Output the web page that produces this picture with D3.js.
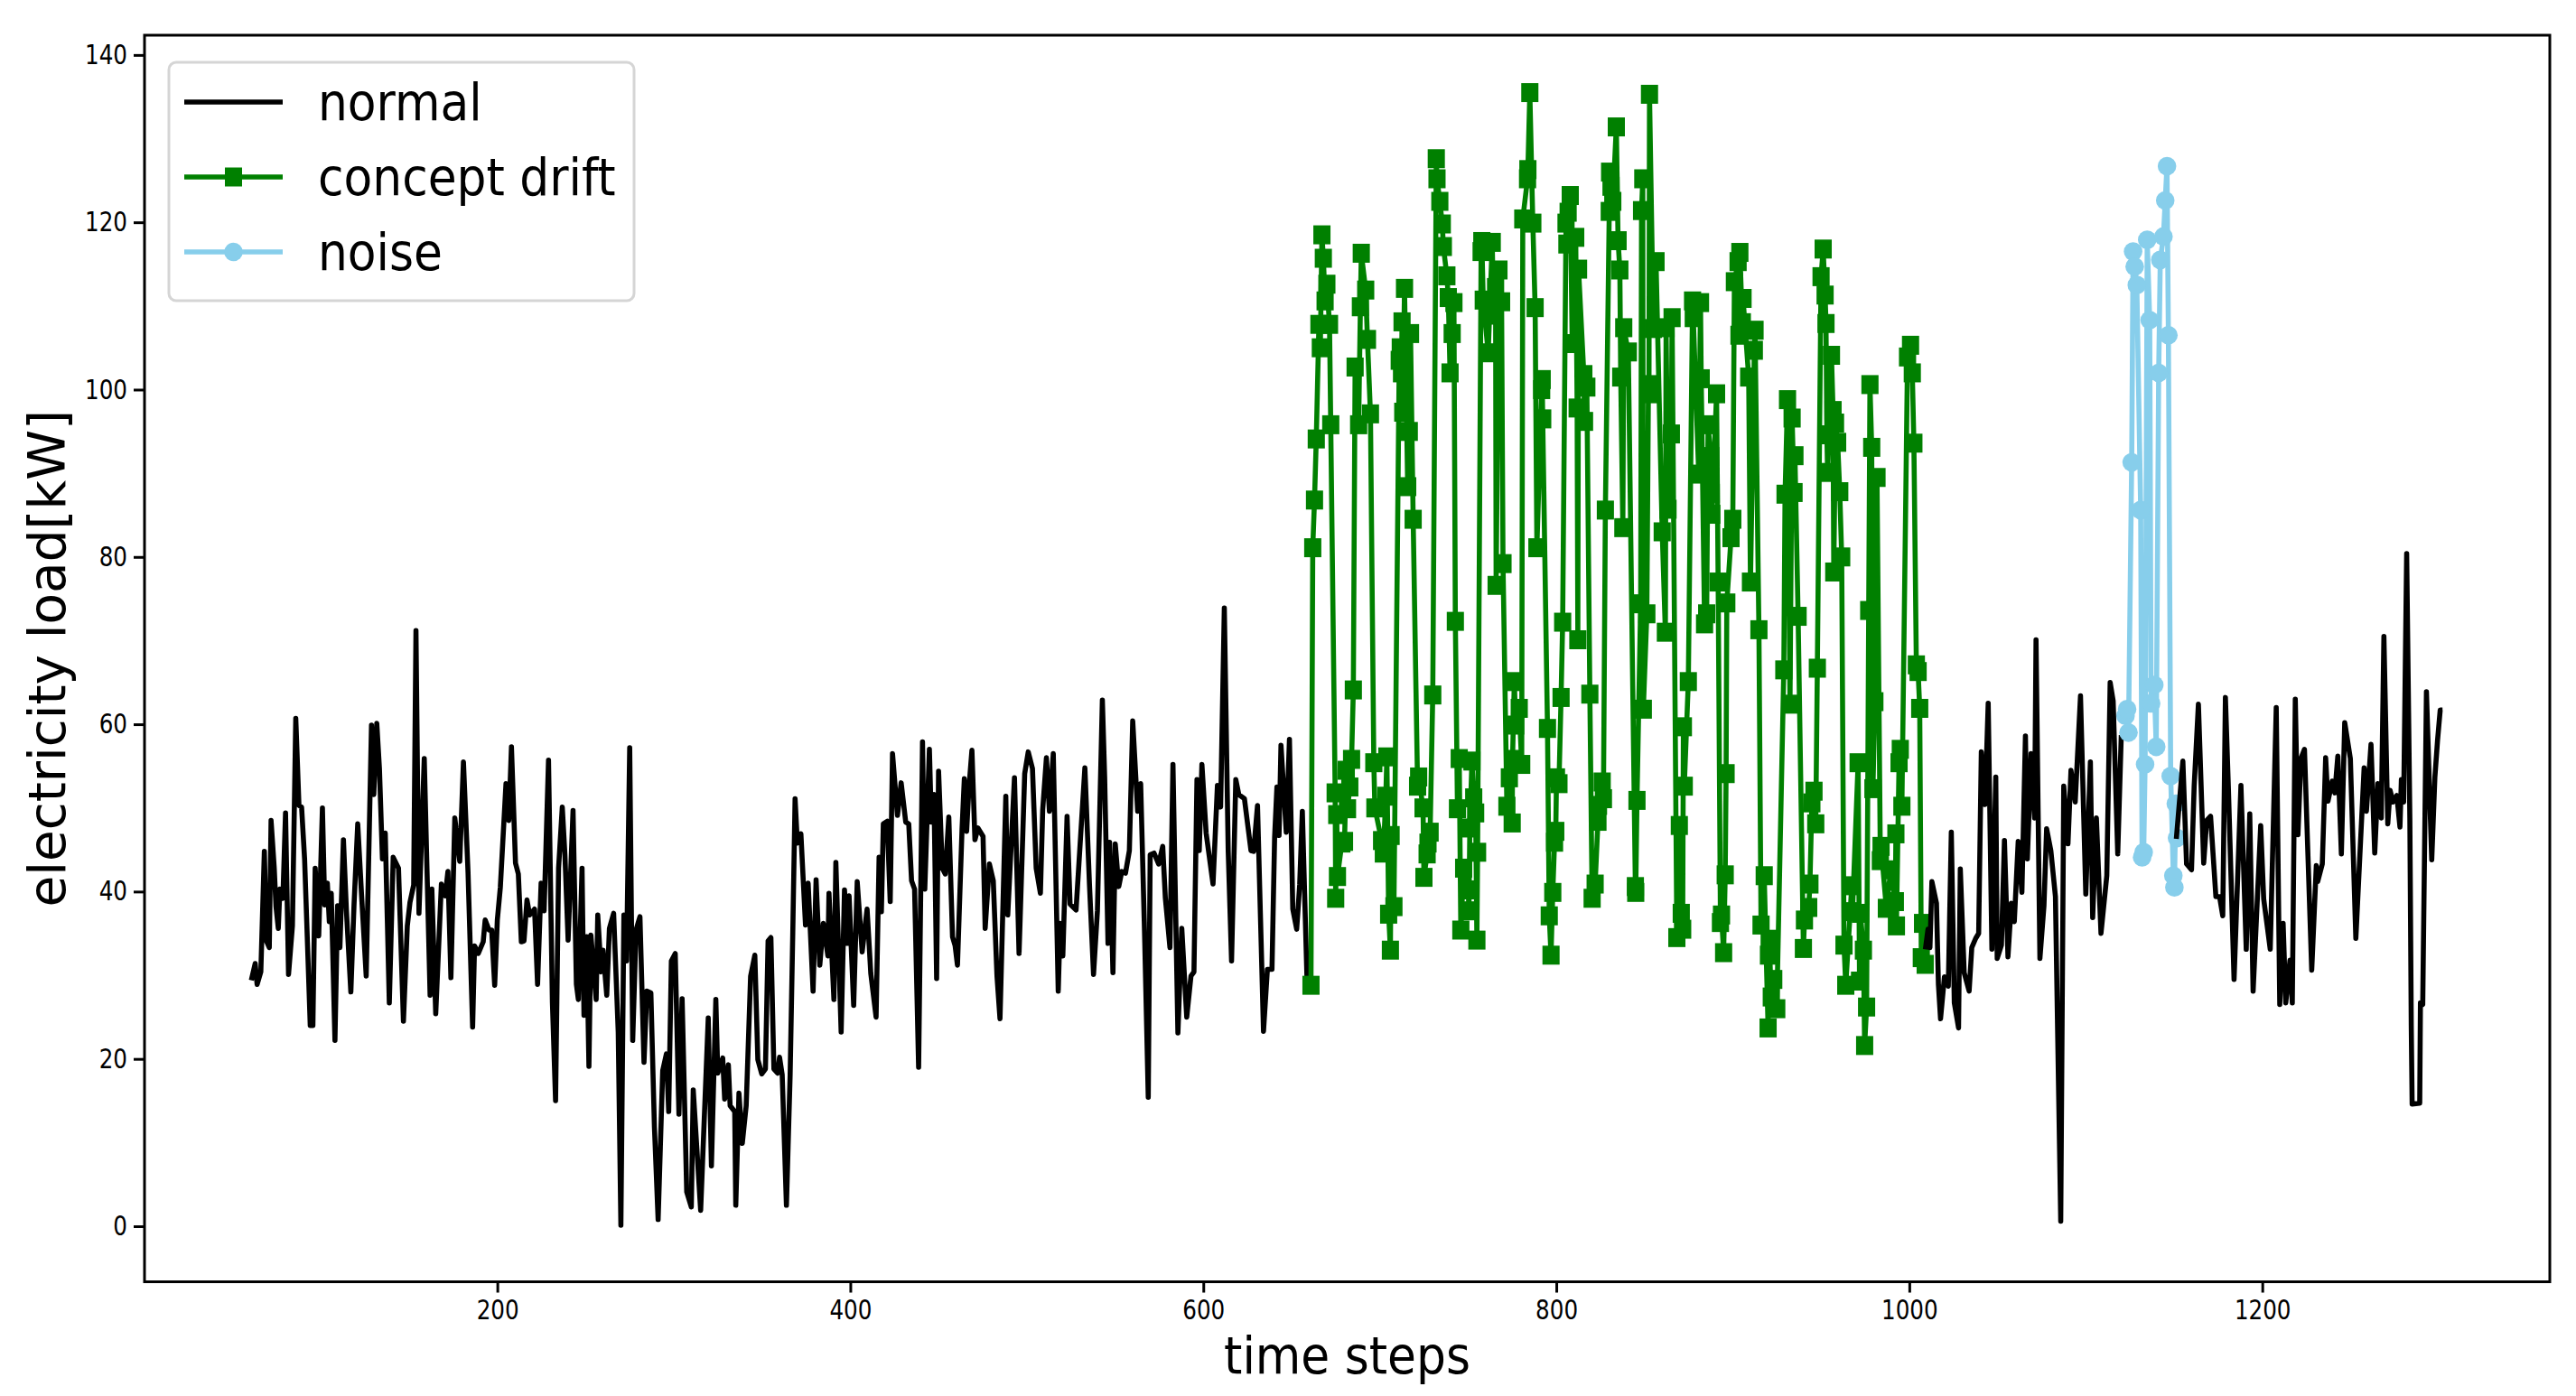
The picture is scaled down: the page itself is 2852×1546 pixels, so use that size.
<!DOCTYPE html>
<html lang="en">
<meta charset="utf-8">
<title>electricity load</title>
<script src="https://d3js.org/d3.v7.min.js"></script>
<style>
  body { margin: 0; background: #fff; }
  text { font-family: "DejaVu Sans", sans-serif; fill: #000; }
</style>
<svg width="2852" height="1546"></svg>
<script>
// [time step, load] vertices
var normalA = [[60.6,29.4],[62.8,31.4],[63.9,28.9],[66,30.4],[68,44.8],[69.2,34.1],[70.8,33.3],[71.8,48.5],[73.6,42.8],[74.6,38.2],[75.9,35.6],[76.8,40.3],[78.5,39.2],[80,49.4],[81.7,30.1],[83.9,35.9],[85.8,60.7],[87.6,50.3],[89.1,50.1],[90.8,43.9],[92.3,34.6],[94,24],[95.5,24],[96.8,42.8],[98.8,34.7],[100.9,50],[102.2,38.4],[103.7,41],[104.8,36.4],[105.9,39.8],[108,22.2],[109.5,38.3],[110.8,33.3],[112.8,46.2],[114.5,37.7],[117,28],[118.8,38.4],[120.9,48.1],[123.1,39.5],[125.7,29.9],[127,42.8],[128.7,59.9],[130,51.6],[131.7,60.1],[133.2,54.7],[134.9,43.9],[136.5,47],[138.8,26.7],[141,44.1],[144,42.8],[146.8,24.5],[149,35.9],[150.5,38.7],[152.6,40.8],[153.9,71.2],[155.6,37.4],[158.6,55.9],[161.9,27.6],[162.9,40.3],[165.1,25.4],[168.3,40.9],[170.5,39.5],[172,42.4],[173.7,29.7],[175.9,48.8],[178.7,43.6],[180.8,55.5],[183.4,42.3],[186,23.8],[187.1,33.5],[189.2,32.6],[192,34],[193.1,36.6],[195.3,35.4],[196.8,35.4],[198.5,28.8],[200,36.6],[201.7,40.5],[204.9,52.9],[206.5,48.5],[208,57.3],[210.3,43.4],[211.9,42.1],[213.6,34],[215.1,34.1],[216.8,39],[218.3,37.2],[221.1,37.9],[222.8,28.9],[224.8,41],[226.5,37.7],[229,55.7],[231.2,26.8],[233,15],[234.7,42.8],[236.8,50.1],[238.3,44.4],[240.1,34.2],[242.9,49.7],[244.8,28.9],[245.9,27.1],[248,42.8],[249.1,25.2],[250.6,34.6],[251.9,19.1],[253,34.8],[256,27.1],[256.9,37.2],[258.8,30.4],[259.9,33],[262,27.6],[263.5,35.6],[265.9,37.4],[268.5,23.2],[270,0.1],[271.7,37.2],[273.2,31.7],[275,57.2],[276.7,22.2],[278.6,35.4],[280.8,37],[283.1,19.6],[284.7,28.1],[287,27.9],[289,11.9],[291.1,0.8],[293.7,18.6],[295.8,20.6],[297.1,13.7],[298.6,31.7],[300.8,32.6],[302.9,13.4],[304.7,27.2],[307.3,4.1],[309.9,2.3],[311,16.3],[315.2,1.9],[319.5,24.9],[321.3,7.2],[323.8,27.1],[324.9,18.3],[327.7,20.1],[328.8,15.2],[330.9,19.3],[331.9,14.4],[334.5,13.7],[335.1,2.5],[336.9,15.9],[338.8,9.9],[341,14.4],[343.5,29.9],[345.9,32.4],[347.6,19.9],[349.8,18.2],[351.9,18.8],[353.4,34.1],[355,34.5],[356.7,18.8],[358.8,18.3],[359.9,20.2],[361.4,18.1],[363.8,2.5],[365.9,18.1],[367.4,35.1],[368.7,51.1],[370,45.8],[372,46.9],[374.6,36],[376.1,41],[378.9,28.1],[380.6,41.4],[382.7,31.2],[384.7,36.2],[387.3,32.3],[387.9,39.8],[390.7,27.1],[391.8,43.5],[394.8,23.2],[396.7,40.2],[398.3,33.8],[399.3,39.5],[401.9,26.4],[403.9,41.2],[406.7,32.8],[409.5,37.9],[411.6,30.2],[414.6,25],[416.3,44.1],[417.6,37.6],[418.7,48.1],[420.9,48.4],[422.6,38.8],[423.9,56.5],[426.7,49.1],[428.8,53],[431.4,48.3],[433.1,48.1],[434.7,41.3],[436.4,40.3],[438.7,19],[440.9,57.9],[442.2,40.3],[444.8,57],[445.9,48.3],[447.4,51.6],[448.9,29.6],[450,54.4],[452.1,42.8],[453.8,42.1],[455.8,48.9],[457.9,34.6],[459.4,33.5],[460.7,31.2],[463.3,47.5],[464.6,53.5],[465.9,47.2],[467.2,52.4],[468.9,56.9],[470.6,46.2],[472.3,47.6],[475.2,46.6],[476.4,35.6],[478.8,43.3],[481,41.3],[483.1,29.9],[484.8,24.8],[488.1,51.4],[489.2,37.2],[493,53.6],[495.6,32.6],[498.8,54.1],[500.8,56.7],[503.2,54.7],[505.3,42.8],[507.7,39.8],[509,49.8],[511.1,56],[512.8,49.6],[515,56.5],[517.8,28.1],[518.9,36.2],[520.4,32.3],[522.8,49],[524.5,38.5],[527.9,37.8],[530.5,46.7],[532.9,54.8],[535.5,40.8],[537.8,30.1],[540,37.7],[542.8,62.9],[544.1,53.7],[546,33.8],[546.9,45.9],[548.8,30.3],[550.1,45.7],[552.1,40.6],[553.8,42.4],[555.9,42.2],[558.1,44.9],[560,60.4],[562.8,49.6],[564.5,52.9],[566.7,35.1],[568.8,15.4],[569.9,44.4],[572.1,44.6],[574.7,43.3],[577,45.4],[578.5,39.2],[581.1,33.3],[582.8,55.2],[585.6,23.1],[587.8,35.6],[590.6,25],[593,29.9],[594.7,30.4],[596.4,53.4],[597.7,44.9],[599.2,55.2],[601.6,47],[605.5,40.9],[608,52.7],[609.8,50.1],[611.9,73.9],[614.1,44.9],[616,31.7],[618.4,53.4],[620.1,51.6],[623.3,51.1],[627,44.9],[628.5,44.8],[630.7,50.3],[634.1,23.3],[636.3,30.7],[638.9,30.7],[640.4,46.5],[641.7,52.5],[642.9,46.7],[644,57.5],[647,47.1],[648.8,58.2],[650.7,37.9],[652.9,35.5],[654.6,40.8],[656.1,49.6],[658.7,29.9],[660,28.8]];

var normalB = [[1009.1,33.1],[1010.6,35.5],[1011.7,33.3],[1012.8,41.2],[1015.4,38.6],[1016.5,28.9],[1017.7,24.8],[1019.9,29.8],[1022.1,28.7],[1023.8,47.1],[1025.5,26.7],[1027.9,23.7],[1028.9,42.7],[1031.1,30.3],[1033.9,28.1],[1035.4,33.3],[1037.6,34.4],[1039.3,35],[1040.8,56.7],[1042.9,50.4],[1044.7,62.5],[1046.8,33.1],[1049,53.7],[1049.8,32],[1052.2,33.6],[1053.9,46.1],[1055.9,32.2],[1057.8,38.6],[1059.5,36.4],[1061.7,46],[1063.8,39.9],[1065.8,58.6],[1066.9,43.9],[1069,56.5],[1071,48.8],[1071.8,70.1],[1074,32],[1076.3,38.3],[1077.8,47.5],[1080.2,44.9],[1082.8,39.4],[1085.8,0.6],[1087.5,52.6],[1089.9,45.7],[1091.6,54.5],[1094,50.7],[1097,63.4],[1100,39.7],[1102.6,55.5],[1103.9,36.9],[1106,48.8],[1108.6,35],[1111.9,41.9],[1113.8,65],[1115.5,62.8],[1118.1,44.5],[1120.1,58.7]];

var normalC = [[1151.3,46.3],[1155,55.6],[1157.1,43.3],[1159.9,42.6],[1161.4,52.6],[1163.8,62.4],[1166.8,43.4],[1168.5,48.5],[1170.7,49],[1173.7,39.4],[1175.8,39.4],[1177.6,37.1],[1179.1,63.2],[1180.8,52.3],[1184,29.5],[1187.9,52.7],[1190.9,33.1],[1192.9,49.3],[1194.8,28.1],[1199.1,47.9],[1200.8,39.1],[1204.5,33.1],[1207.9,62],[1209.9,26.5],[1211.8,36.2],[1213.3,26.7],[1215.7,31.8],[1217,26.7],[1218.7,63],[1220.2,46.8],[1221.9,55.9],[1223.9,57],[1228,30.6],[1230.6,43.1],[1231.4,41.2],[1234,43.3],[1235.9,56],[1237.2,50.8],[1239.6,53.2],[1241.1,51.8],[1242.8,56.2],[1244.8,44.5],[1246.7,60.2],[1249.9,55.9],[1253,34.4],[1257.7,54.8],[1259,49.6],[1261.6,57.6],[1263.7,44.6],[1265.5,52.9],[1267.4,48.8],[1268.9,70.5],[1271.1,48.1],[1272.4,52.1],[1274.1,50.7],[1276.2,51.5],[1278,47.7],[1278.8,53.4],[1280.1,50.7],[1281.8,80.4],[1283.6,48.8],[1284.4,24],[1284.9,14.6],[1289.2,14.7],[1289.6,26.7],[1290.9,26.5],[1293,63.9],[1296,43.8],[1297.8,53.7],[1299.3,58.1],[1300.8,61.7],[1302.1,61.7]];

var drift = [[661,28.8],[662,81.1],[663,86.8],[664,94.1],[665.5,107.8],[666.3,105],[667.2,118.5],[668,115.7],[669,110.6],[670,112.6],[671.5,107.8],[672.2,95.8],[674.7,51.8],[675,39.2],[675.6,49.2],[676,41.8],[678.5,45.8],[680,46],[681,54.5],[681.7,49.9],[683,52.5],[684,55.8],[685,64.1],[686,102.7],[688,95.8],[689,109.9],[689.5,116.3],[692,111.9],[693,106],[694.7,97.1],[696.6,55.4],[697.2,50],[701,46.1],[702,44.6],[703.4,51.4],[704,56.1],[705,37.3],[706,33],[706.4,46.7],[708,38.2],[711,103.5],[711.6,105],[712.3,102],[712.6,108.1],[713,97.3],[714,112.1],[715.8,88.4],[716.7,95],[717.4,106.7],[718.9,84.5],[721.4,52.6],[722,53.7],[724.5,50],[725,41.7],[726.8,44.5],[727.3,45.8],[728.5,47.1],[730,63.5],[732,127.6],[732.4,125.2],[734,122.5],[735.4,119.8],[736,117.1],[738,113.6],[738.8,111],[739.8,102],[741,106.7],[742,110.4],[742.8,72.3],[744,49.9],[745,55.9],[745.9,35.4],[747.5,42.8],[750.1,40.2],[750.5,37.7],[751,47.6],[752.2,55.6],[753.2,51.2],[754.3,49.4],[755,34.2],[755.4,44.7],[757.4,116.5],[757.8,117.7],[758.6,110.7],[761.4,104.4],[763.7,117.6],[764.4,108.9],[765.6,112.2],[765.9,76.6],[767.5,114.3],[769,110.5],[769.8,79.2],[772,50.2],[773.4,53.6],[775,48.2],[775.2,55.8],[776.2,65.1],[777,59.9],[779,61.9],[780.4,55.2],[781,120.4],[783.7,125.2],[783.9,126.3],[785,135.5],[786.7,119.9],[788,109.8],[789,81.1],[791.7,100],[792,101.2],[792.3,96.5],[795,59.5],[796,37.1],[797,32.4],[798,39.9],[799,45.9],[799.7,47.2],[800.1,53.6],[801.5,52.9],[802.7,63.2],[803.6,72.2],[805.5,119.9],[806,117.4],[806.7,121.2],[807.9,123.2],[809,105.5],[811,118.2],[811.8,97.8],[812.2,70.1],[812.6,114.4],[815.6,101.8],[816,96.2],[817.3,100.3],[819,63.6],[820.3,39.2],[822,40.9],[823.6,48.4],[823.9,50.3],[826,53.1],[826.7,51.1],[827.8,85.6],[830,121.3],[830.2,126],[831,124.3],[832,122.5],[834,131.4],[835,117.8],[836,114.3],[836.5,101.5],[837.7,83.5],[838.2,107.4],[840.8,104.5],[844.8,40.6],[845,39.9],[845.7,50.9],[847.8,74.4],[848.3,121.4],[849,125.2],[849.3,61.8],[851.3,73.2],[852.2,100.6],[852.5,99.5],[852.8,135.3],[855,107.3],[856.5,115.3],[860,83],[861.8,71],[862.2,107.4],[863.3,85.7],[865.2,94.7],[865.6,108.6],[868.3,34.5],[869.7,47.9],[870.8,37.4],[871.6,35.5],[872,59.7],[872.5,52.6],[874.8,65.1],[877.2,110.6],[877.6,108.6],[880.7,89.9],[881.7,110.4],[882.1,101.3],[884,72],[885.2,73.2],[886,95.8],[887.5,92],[887.8,87.6],[888.1,85.1],[890.8,99.5],[891.7,77],[893,36.3],[893.6,37.2],[894.8,32.7],[895.7,42],[896.2,54.1],[896.6,74.5],[899,82.3],[900,84.5],[900.9,112.9],[903,115.3],[903.5,106.5],[904,116.4],[905.4,108],[905.8,110.9],[909,101.5],[910,77],[912.2,104.7],[912.6,107.1],[914.8,71.3],[916,36],[917.8,41.9],[920,23.7],[920.2,32.4],[920.6,34.3],[921.8,27.4],[923.2,29.5],[924.9,26],[928.9,66.5],[929.6,87.5],[931,98.8],[932.4,62.4],[933.6,96.6],[934.7,87.7],[935.2,92.1],[937,72.9],[940,33.2],[940.6,36.6],[943,38.1],[943.7,40.9],[944.8,50.6],[946,52],[947,48.1],[947.9,66.7],[950,113.5],[951.2,116.8],[952.3,111.3],[952.8,107.9],[953.3,94.6],[953.7,90.1],[955.9,104.1],[956.8,97.5],[957.2,78.2],[958.2,96],[959.4,93.7],[960.6,87.8],[961.7,80],[963,33.6],[964,28.8],[967.4,40.7],[967.8,37.6],[971,55.4],[971.8,29.3],[972.3,37.4],[974,33],[974.7,21.6],[975.8,26.2],[977,73.6],[977.7,100.6],[978.7,93.1],[979.4,52.3],[980.5,62.7],[981.7,89.5],[983.6,43.7],[984,45.4],[987,38],[989.5,42.6],[992.1,38.8],[992.4,46.9],[992.7,35.9],[994.2,55.4],[994.9,57],[995.8,50.2],[999,103.9],[1000.7,105.3],[1001.7,102],[1002.6,93.6],[1004,67.1],[1005,66.3],[1005.9,61.9],[1006.8,32.1],[1007.5,36.2],[1009,31.3]];

var noise = [[1122.5,61],[1123.4,61.8],[1124.2,59],[1126,91.3],[1126.8,116.5],[1127.7,114.7],[1128.9,112.5],[1131.1,85.6],[1131.9,44.1],[1132.8,44.7],[1133.6,55.2],[1134.8,117.9],[1136.2,108.3],[1137,62.5],[1138.8,64.7],[1139.9,57.3],[1141.3,102],[1142.2,115.5],[1144,118.3],[1145,122.6],[1146,126.7],[1146.8,106.5],[1148.1,53.8],[1149.6,41.9],[1150.2,40.5],[1151,50.5],[1151.7,46.4]];

var xTicks = [200, 400, 600, 800, 1000, 1200];
var yTicks = [0, 20, 40, 60, 80, 100, 120, 140];
var seriesNames = ["normal", "concept drift", "noise"];

var black = "#000", green = "#008000", sky = "#87ceeb";

var svg = d3.select("svg");
var left = 160, right = 2823, top_ = 39, bottom = 1419.5;

var x = d3.scaleLinear().domain([0.1, 1362.9]).range([left, right]);
var y = d3.scaleLinear().domain([-6.64, 142.36]).range([bottom, top_]);

var line = d3.line().x(function(d) { return x(d[0]); }).y(function(d) { return y(d[1]); });

function drawLine(data, color) {
  svg.append("path").datum(data)
    .attr("d", line)
    .attr("fill", "none")
    .attr("stroke", color)
    .attr("stroke-width", 5.6)
    .attr("stroke-linejoin", "round");
}

// same order as the original: later black pieces sit over the coloured ones
drawLine(normalA, black);
drawLine(drift, green);
svg.append("g").selectAll("rect").data(drift).enter().append("rect")
  .attr("x", function(d) { return x(d[0]) - 9.5; })
  .attr("y", function(d) { return y(d[1]) - 10.5; })
  .attr("width", 19).attr("height", 21)
  .attr("fill", green);
drawLine(normalB, black);
drawLine(noise, sky);
svg.append("g").selectAll("circle").data(noise).enter().append("circle")
  .attr("cx", function(d) { return x(d[0]); })
  .attr("cy", function(d) { return y(d[1]); })
  .attr("r", 10.3)
  .attr("fill", sky);
drawLine(normalC, black);

// axes
var xAxis = svg.append("g")
  .attr("transform", "translate(0," + bottom + ")")
  .call(d3.axisBottom(x).tickValues(xTicks).tickFormat(d3.format("d")).tickSize(12).tickPadding(8));
var yAxis = svg.append("g")
  .attr("transform", "translate(" + left + ",0)")
  .call(d3.axisLeft(y).tickValues(yTicks).tickSize(12).tickPadding(7));

[xAxis, yAxis].forEach(function(a) {
  a.select(".domain").remove();
  a.selectAll("line").attr("stroke", "#000").attr("stroke-width", 3);
  a.selectAll("text").style("font-size", "30px").call(squeeze, 0.82);
});

svg.append("rect")
  .attr("x", left).attr("y", top_)
  .attr("width", right - left).attr("height", bottom - top_)
  .attr("fill", "none").attr("stroke", "#000").attr("stroke-width", 3);

function squeeze(sel, k) {
  sel.each(function() {
    d3.select(this)
      .attr("textLength", this.getComputedTextLength() * k)
      .attr("lengthAdjust", "spacingAndGlyphs");
  });
}

// labels
svg.append("text")
  .attr("x", (left + right) / 2).attr("y", 1521)
  .attr("text-anchor", "middle")
  .style("font-size", "57px")
  .text("time steps").call(squeeze, 0.91);

svg.append("text")
  .attr("transform", "translate(72," + (top_ + bottom) / 2 + ") rotate(-90)")
  .attr("text-anchor", "middle")
  .style("font-size", "57px")
  .text("electricity load[kW]").call(squeeze, 0.99);

// legend
svg.append("rect")
  .attr("x", 187).attr("y", 69).attr("width", 515).attr("height", 264).attr("rx", 8)
  .attr("fill", "#fff").attr("stroke", "#d5d5d5").attr("stroke-width", 3);

var legendY = [113, 196, 279];
var legendColor = [black, green, sky];
var item = svg.append("g").selectAll("g").data(seriesNames).enter().append("g")
  .attr("transform", function(d, i) { return "translate(0," + legendY[i] + ")"; });

item.append("line")
  .attr("x1", 204).attr("x2", 313)
  .attr("stroke", function(d, i) { return legendColor[i]; })
  .attr("stroke-width", 5.6);
item.filter(function(d, i) { return i == 1; }).append("rect")
  .attr("x", 249).attr("y", -10.5).attr("width", 19).attr("height", 21).attr("fill", green);
item.filter(function(d, i) { return i == 2; }).append("circle")
  .attr("cx", 258.5).attr("r", 10.3).attr("fill", sky);
item.append("text")
  .attr("x", 352).attr("y", 20)
  .style("font-size", "57px")
  .text(function(d) { return d; }).call(squeeze, 0.91);
</script>
</html>
